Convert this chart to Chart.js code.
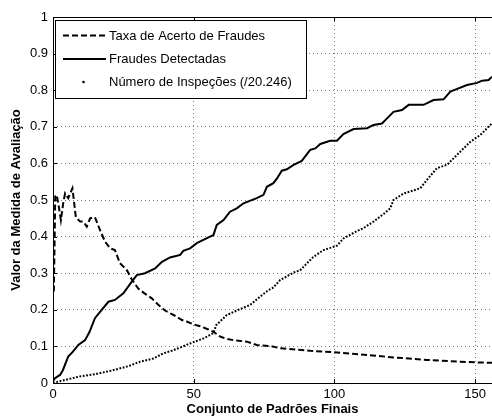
<!DOCTYPE html>
<html>
<head>
<meta charset="utf-8">
<script src="https://cdn.jsdelivr.net/npm/chart.js@4.4.1/dist/chart.umd.min.js"></script>
<style>
  html, body { margin: 0; padding: 0; background: #fff; }
  canvas { display: block; }
</style>
</head>
<body>
<canvas id="chart" width="492" height="417"></canvas>
<script>
// valores (x = conjunto de padroes, y = valor da medida)
var taxaX = [0.3, 0.8, 1.3, 1.9, 2.8, 3.7, 4.3, 5.4, 6.9, 8.1, 9.6, 10.8, 12, 13.2, 14.9, 16.7, 18.5, 20.3, 22, 23.8,
             26.2, 28, 30.3, 32.5, 35, 37.5, 39.8, 42.8, 45.8, 47.5, 50, 52.3, 55, 57, 59.4, 61.5, 64.1, 68.9, 72.4,
             77.2, 80.7, 91.4, 99.7, 109.2, 121, 132.9, 144.7, 156];
var taxaY = [0.25, 0.51, 0.514, 0.49, 0.445, 0.495, 0.518, 0.505, 0.532, 0.454, 0.441, 0.441, 0.427, 0.45, 0.453, 0.418,
             0.386, 0.368, 0.363, 0.327, 0.309, 0.283, 0.258, 0.245, 0.232, 0.213, 0.198, 0.186, 0.172, 0.168, 0.16,
             0.155, 0.147, 0.14, 0.127, 0.121, 0.117, 0.113, 0.104, 0.101, 0.095, 0.088, 0.084, 0.078, 0.07, 0.063,
             0.058, 0.055];

var fraudesX = [0, 0.7, 2.5, 3.5, 5.4, 7, 9, 11.4, 13, 14.9, 17.3, 19.7, 22, 25, 28, 29.8, 32.7, 36.3, 38.7, 41.6, 45.2,
                46.3, 48.7, 51.1, 55.8, 57, 58.2, 60.6, 62.9, 65.3, 67.7, 72.4, 74.8, 76, 78.3, 79.6, 81.3, 83.1, 85.5,
                88.4, 91.4, 93.2, 95, 98.5, 100.9, 103.2, 106.8, 111.6, 113.9, 116.9, 118.7, 121, 124, 126.4, 131.7,
                135.2, 138.8, 141.2, 144.1, 147.1, 150.7, 152.5, 154.8, 156];
var fraudesY = [0.005, 0.013, 0.022, 0.035, 0.072, 0.085, 0.104, 0.117, 0.14, 0.177, 0.2, 0.222, 0.227, 0.245, 0.277,
                0.295, 0.3, 0.313, 0.331, 0.343, 0.35, 0.361, 0.368, 0.382, 0.4, 0.404, 0.432, 0.445, 0.468, 0.477,
                0.491, 0.505, 0.514, 0.536, 0.546, 0.559, 0.58, 0.584, 0.596, 0.607, 0.637, 0.641, 0.653, 0.662, 0.662,
                0.68, 0.694, 0.696, 0.705, 0.709, 0.723, 0.741, 0.746, 0.76, 0.76, 0.773, 0.775, 0.796, 0.805, 0.814,
                0.82, 0.826, 0.828, 0.837];

var inspX = [0, 1.9, 9, 14.9, 20.9, 26.8, 30.9, 35.7, 39.2, 42.2, 45.2, 48.7, 53.5, 57, 58, 61.8, 66.5, 70, 73.6, 76.6,
             78.3, 80.7, 85.5, 87.8, 91.4, 92.6, 96.1, 100.9, 103.2, 108, 110.3, 113.9, 117.5, 119.8, 121, 124.6, 130.5,
             132.9, 136.4, 140, 144.7, 148.3, 151.9, 155.4, 156];
var inspY = [0, 0.004, 0.017, 0.024, 0.034, 0.046, 0.058, 0.067, 0.081, 0.088, 0.097, 0.108, 0.122, 0.136, 0.158, 0.186,
             0.202, 0.213, 0.236, 0.254, 0.261, 0.281, 0.302, 0.308, 0.336, 0.345, 0.363, 0.375, 0.395, 0.415, 0.423,
             0.441, 0.462, 0.477, 0.5, 0.518, 0.532, 0.555, 0.587, 0.596, 0.632, 0.659, 0.678, 0.705, 0.71];

var xTicks = [0, 50, 100, 150];
var yTicks = [0, 0.1, 0.2, 0.3, 0.4, 0.5, 0.6, 0.7, 0.8, 0.9, 1];
var seriesNames = ['Taxa de Acerto de Fraudes', 'Fraudes Detectadas', 'Número de Inspeções (/20.246)'];
var xTitle = 'Conjunto de Padrões Finais';
var yTitle = 'Valor da Medida de Avaliação';

var fontFamily = "'Liberation Sans', Arial, Helvetica, sans-serif";

function toPoints(xs, ys) {
    return xs.map(function (x, i) {
        return { x: x, y: ys[i] };
    });
}

// moldura e marcas de escala para dentro (estilo matlab)
var framePlugin = {
    id: 'frame',
    afterDatasetsDraw: function (chart) {
        var ctx = chart.ctx;
        var a = chart.chartArea;
        var sx = chart.scales.x, sy = chart.scales.y;
        ctx.save();
        ctx.strokeStyle = '#000';
        ctx.lineWidth = 1;
        ctx.setLineDash([]);
        ctx.beginPath();
        ctx.moveTo(a.right, Math.round(a.top) + 0.5);
        ctx.lineTo(Math.round(a.left) + 0.5, Math.round(a.top) + 0.5);
        ctx.lineTo(Math.round(a.left) + 0.5, Math.round(a.bottom) + 0.5);
        ctx.lineTo(a.right, Math.round(a.bottom) + 0.5);
        ctx.stroke();

        ctx.beginPath();
        xTicks.forEach(function (v) {
            var px = Math.round(sx.getPixelForValue(v)) + 0.5;
            ctx.moveTo(px, a.bottom);
            ctx.lineTo(px, a.bottom - 4);
            ctx.moveTo(px, a.top);
            ctx.lineTo(px, a.top + 4);
        });
        yTicks.forEach(function (v) {
            var py = Math.round(sy.getPixelForValue(v)) + 0.5;
            ctx.moveTo(a.left, py);
            ctx.lineTo(a.left + 4, py);
        });
        ctx.stroke();
        ctx.restore();
    }
};

// legenda com caixa branca, desenhada por cima das curvas
var legendPlugin = {
    id: 'boxLegend',
    afterDatasetsDraw: function (chart) {
        var ctx = chart.ctx;
        var box = { x: 55.5, y: 20.5, w: 251, h: 78 };
        ctx.save();
        ctx.fillStyle = '#fff';
        ctx.fillRect(box.x, box.y, box.w, box.h);
        ctx.strokeStyle = '#000';
        ctx.lineWidth = 1;
        ctx.setLineDash([]);
        ctx.strokeRect(box.x, box.y, box.w, box.h);

        var rows = [35.5, 59, 82];
        ctx.font = '13px ' + fontFamily;
        ctx.textBaseline = 'middle';
        ctx.fillStyle = '#000';
        chart.data.datasets.forEach(function (ds, i) {
            var y = rows[i];
            if (i === 2) {
                ctx.beginPath();
                ctx.arc(83.5, y, 1.3, 0, Math.PI * 2);
                ctx.fill();
            } else {
                ctx.beginPath();
                ctx.lineWidth = 2;
                ctx.setLineDash(ds.borderDash || []);
                ctx.moveTo(63, y);
                ctx.lineTo(106, y);
                ctx.stroke();
                ctx.setLineDash([]);
            }
            ctx.fillText(ds.label, 109, y + 0.5);
        });
        ctx.restore();
    }
};

var ctx = document.getElementById('chart').getContext('2d');
var chart = new Chart(ctx, {
    type: 'line',
    data: {
        datasets: [
            {
                label: seriesNames[0],
                data: toPoints(taxaX, taxaY),
                borderColor: '#000',
                borderWidth: 2,
                borderDash: [6, 3]
            },
            {
                label: seriesNames[1],
                data: toPoints(fraudesX, fraudesY),
                borderColor: '#000',
                borderWidth: 2
            },
            {
                label: seriesNames[2],
                data: toPoints(inspX, inspY),
                borderColor: '#000',
                borderWidth: 2,
                borderDash: [1.8, 1.6]
            }
        ]
    },
    options: {
        responsive: false,
        animation: false,
        devicePixelRatio: 1,
        layout: { padding: { top: 17, right: 0, left: 0, bottom: 0 } },
        elements: {
            point: { radius: 0 },
            line: { tension: 0, fill: false, borderCapStyle: 'butt' }
        },
        plugins: {
            legend: { display: false },
            tooltip: { enabled: false }
        },
        scales: {
            x: {
                type: 'linear',
                min: 0,
                max: 156,
                afterBuildTicks: function (s) {
                    s.ticks = xTicks.map(function (v) { return { value: v }; });
                },
                afterFit: function (s) { s.height = 34; },
                grid: { color: '#777', lineWidth: 1, drawTicks: false },
                border: { display: false, dash: [1, 3] },
                ticks: {
                    padding: 4,
                    color: '#000',
                    maxRotation: 0,
                    autoSkip: false,
                    font: { family: fontFamily, size: 13 },
                    callback: function (v) { return String(v); }
                },
                title: {
                    display: true,
                    text: xTitle,
                    color: '#000',
                    font: { family: fontFamily, size: 13, weight: 'bold' },
                    padding: { top: 0, bottom: 0 }
                }
            },
            y: {
                type: 'linear',
                min: 0,
                max: 1,
                afterBuildTicks: function (s) {
                    s.ticks = yTicks.map(function (v) { return { value: v }; });
                },
                afterFit: function (s) { s.width = 53; },
                grid: { color: '#777', lineWidth: 1, drawTicks: false },
                border: { display: false, dash: [1, 3] },
                ticks: {
                    padding: 5,
                    color: '#000',
                    autoSkip: false,
                    font: { family: fontFamily, size: 13 },
                    callback: function (v) { return String(Math.round(v * 10) / 10); }
                },
                title: {
                    display: true,
                    text: yTitle,
                    color: '#000',
                    font: { family: fontFamily, size: 13, weight: 'bold' },
                    padding: { top: 9, bottom: 0 }
                }
            }
        }
    },
    plugins: [framePlugin, legendPlugin]
});
</script>
</body>
</html>
